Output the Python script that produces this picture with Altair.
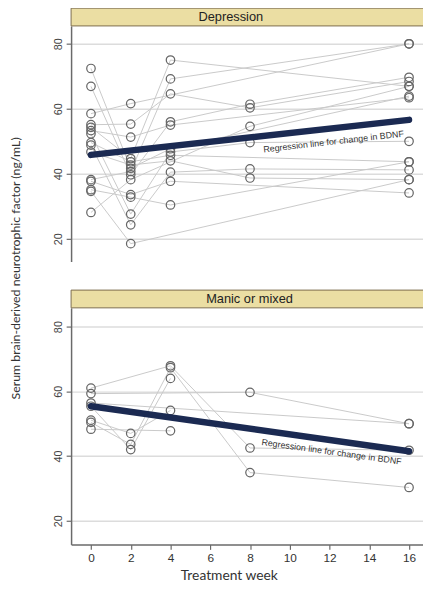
import altair as alt
import pandas as pd

# ---------------- data ----------------
dep_id = [1, 1, 1, 1,
          2, 2, 2, 2, 2,
          3, 3, 3,
          4, 4, 4, 4, 4,
          5, 5, 5, 5,
          6, 6, 6, 6,
          7, 7, 7, 7, 7,
          8, 8, 8, 8,
          9, 9, 9, 9, 9,
          10, 10, 10, 10, 10,
          11, 11, 11, 11,
          12, 12, 12, 12,
          13, 13, 13, 13,
          14, 14, 14,
          15, 15, 15, 15]
dep_week = [0, 2, 4, 16,
            0, 2, 4, 8, 16,
            0, 2, 16,
            0, 2, 4, 8, 16,
            0, 2, 4, 16,
            0, 2, 4, 16,
            0, 2, 4, 8, 16,
            0, 2, 4, 16,
            0, 2, 4, 8, 16,
            0, 2, 4, 8, 16,
            0, 2, 4, 16,
            0, 2, 4, 16,
            0, 2, 4, 16,
            0, 2, 16,
            0, 2, 8, 16]
dep_bdnf = [72.4, 41.7, 47.7, 63.9,
            66.9, 39.7, 56.0, 61.4, 69.7,
            58.5, 61.6, 80.0,
            55.1, 55.3, 64.6, 60.3, 68.4,
            54.3, 44.7, 75.0, 66.9,
            53.3, 51.3, 55.0, 63.4,
            52.3, 27.6, 46.7, 49.6, 50.0,
            49.6, 43.7, 45.7, 43.7,
            48.8, 24.3, 40.5, 41.5, 41.2,
            46.7, 42.7, 44.0, 38.7, 38.2,
            38.2, 40.7, 69.2, 80.0,
            37.7, 33.6, 37.7, 34.1,
            35.1, 32.8, 30.4, 43.7,
            34.6, 18.5, 38.2,
            28.1, 38.2, 54.6, 66.9]

man_id = [1, 1, 1,
          2, 2, 2, 2,
          3, 3, 3, 3, 3,
          4, 4, 4,
          5, 5, 5,
          6, 6,
          7, 7]
man_week = [0, 8, 16,
            0, 4, 8, 16,
            0, 2, 4, 8, 16,
            0, 2, 4,
            0, 2, 4,
            0, 16,
            0, 4]
man_bdnf = [59.3, 59.7, 50.0,
            61.0, 67.9, 42.5, 41.8,
            50.4, 43.6, 67.3, 34.9, 30.3,
            55.4, 42.0, 64.0,
            51.1, 47.0, 54.1,
            56.4, 50.0,
            48.3, 47.8]

reg_week = [0, 16]
dep_reg_bdnf = [45.8, 56.6]
man_reg_bdnf = [55.4, 41.5]

week_ticks = [0, 2, 4, 6, 8, 10, 12, 14, 16]
bdnf_ticks = [20, 40, 60, 80]

reg_label = "Regression line for change in BDNF"
dep_label_pos = [12.2, 49.9]
man_label_pos = [12.1, 41.3]

panel_titles = ["Depression", "Manic or mixed"]
y_title = "Serum brain-derived neurotrophic factor (ng/mL)"
x_title = "Treatment week"

# ---------------- styling ----------------
W = 363
X_DOMAIN = [-1, 17]
AX = "#6a6a6a"


def panel(ids, weeks, vals, reg_vals, label_pos, label_angle, strip_text,
          strip_x, height, ydom, bottom):
    df = pd.DataFrame({"id": ids, "week": weeks, "bdnf": vals})
    reg = pd.DataFrame({"week": reg_week, "bdnf": reg_vals})
    lab = pd.DataFrame({"week": [label_pos[0]], "bdnf": [label_pos[1]],
                        "txt": [reg_label]})
    strip = pd.DataFrame({"txt": [strip_text]})

    if bottom:
        xaxis = alt.Axis(values=week_ticks, grid=False, domainColor=AX,
                         domainWidth=1.5, tickColor=AX, tickSize=5,
                         tickWidth=1.2, labelFont="Liberation Sans",
                         labelFontSize=12, labelColor="#333", labelPadding=3,
                         title=x_title, titleX=160, titleY=32,
                         titleAlign="center", titleBaseline="middle",
                         titleFont="Lato", titleFontSize=14,
                         titleFontWeight="normal", titleColor="#333")
    else:
        xaxis = None
    if not bottom:
        yaxis = alt.Axis(values=bdnf_ticks, grid=True, gridColor="#dcdcdc",
                         gridWidth=1.5, domainColor=AX, domainWidth=1.5,
                         tickColor=AX, tickSize=5, tickWidth=1.2,
                         labelAngle=270, labelAlign="center",
                         labelBaseline="bottom", labelPadding=3,
                         labelFont="Liberation Sans", labelFontSize=11,
                         labelColor="#444",
                         title=y_title, titleX=-56, titleY=245.5,
                         titleAngle=270, titleAlign="center",
                         titleBaseline="middle", titleFont="Lato",
                         titleFontSize=12.5, titleFontWeight="normal",
                         titleColor="#333")
    else:
        yaxis = alt.Axis(values=bdnf_ticks, grid=True, gridColor="#dcdcdc",
                         gridWidth=1.5, domainColor=AX, domainWidth=1.5,
                         tickColor=AX, tickSize=5, tickWidth=1.2,
                         labelAngle=270, labelAlign="center",
                         labelBaseline="bottom", labelPadding=3,
                         labelFont="Liberation Sans", labelFontSize=11,
                         labelColor="#444", title=None)

    xs = alt.Scale(domain=X_DOMAIN, nice=False, zero=False)
    ys = alt.Scale(domain=ydom, nice=False, zero=False)
    xenc = alt.X("week:Q", scale=xs, axis=xaxis)
    yenc = alt.Y("bdnf:Q", scale=ys, axis=yaxis)

    lines = alt.Chart(df).mark_line(color="#c9c9c9", strokeWidth=1).encode(
        x=xenc, y=yenc, detail="id:N", order="week:Q")
    pts = alt.Chart(df).mark_point(shape="circle", filled=False, size=74,
                                   stroke="#666666", strokeWidth=1.25,
                                   opacity=1).encode(x=xenc, y=yenc)
    regl = alt.Chart(reg).mark_line(color="#1b2a52", strokeWidth=6.5,
                                    strokeCap="round").encode(x=xenc, y=yenc)
    labt = alt.Chart(lab).mark_text(font="Liberation Sans", fontSize=9,
                                    angle=label_angle, color="#333").encode(
        x=xenc, y=yenc, text="txt:N")
    srect = alt.Chart(strip).mark_rect(fill="#ebdea3", stroke="#7d6d4d",
                                       strokeWidth=1).encode(
        x=alt.value(0), x2=alt.value(W + 2), y=alt.value(-18), y2=alt.value(0))
    stext = alt.Chart(strip).mark_text(font="Liberation Sans", fontSize=13,
                                       color="#222", baseline="middle").encode(
        x=alt.value(strip_x), y=alt.value(-8.5), text="txt:N")
    return alt.layer(lines, pts, regl, labt, srect, stext).properties(
        width=W, height=height)


top = panel(dep_id, dep_week, dep_bdnf, dep_reg_bdnf, dep_label_pos, 353.5,
            panel_titles[0], 162, 239, [13, 85.5], False)
bottom = panel(man_id, man_week, man_bdnf, man_reg_bdnf, man_label_pos, 8,
               panel_titles[1], 181, 240, [12.7, 85.8], True)

chart = alt.VConcatChart(vconcat=[top, bottom], spacing=47,
                         bounds="flush").properties(
    padding={"left": 2, "top": -5, "right": -9, "bottom": 0},
    autosize=alt.AutoSizeParams(type="pad"),
    background="white",
).configure_view(stroke=None)

chart.save("out.html", embed_options={"renderer": "svg", "actions": False})
